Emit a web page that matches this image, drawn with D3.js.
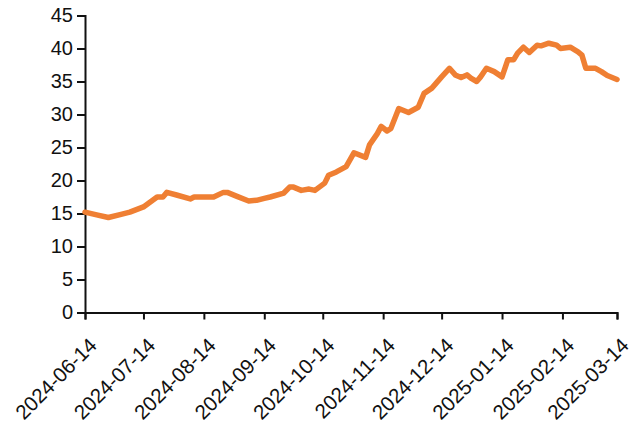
<!DOCTYPE html>
<html>
<head>
<meta charset="utf-8">
<script src="https://cdn.jsdelivr.net/npm/d3@7"></script>
<style>
  body { margin: 0; background: #fff; }
  text { font-family: "Liberation Sans", Arial, sans-serif; fill: #111; }
</style>
</head>
<body>
<div id="chart"></div>
<script>
const width = 643;
const height = 428;
const margin = {top: 15.5, right: 26, bottom: 115.5, left: 85};

// data
const dates = [
  "2024-06-14", "2024-06-20", "2024-06-26", "2024-07-03", "2024-07-07", "2024-07-14",
  "2024-07-21", "2024-07-24", "2024-07-26", "2024-07-31", "2024-08-07", "2024-08-09",
  "2024-08-19", "2024-08-24", "2024-08-26", "2024-08-31", "2024-09-06", "2024-09-10",
  "2024-09-14", "2024-09-17", "2024-09-24", "2024-09-27", "2024-09-29", "2024-10-03",
  "2024-10-07", "2024-10-10", "2024-10-15", "2024-10-17", "2024-10-21", "2024-10-26",
  "2024-10-30", "2024-11-05", "2024-11-07", "2024-11-11", "2024-11-13", "2024-11-16",
  "2024-11-18", "2024-11-22", "2024-11-27", "2024-12-02", "2024-12-05", "2024-12-09",
  "2024-12-14", "2024-12-18", "2024-12-21", "2024-12-24", "2024-12-27", "2024-12-29",
  "2025-01-01", "2025-01-03", "2025-01-06", "2025-01-10", "2025-01-14", "2025-01-17",
  "2025-01-20", "2025-01-22", "2025-01-25", "2025-01-28", "2025-02-01", "2025-02-03",
  "2025-02-07", "2025-02-11", "2025-02-13", "2025-02-18", "2025-02-22", "2025-02-24",
  "2025-02-26", "2025-03-03", "2025-03-06", "2025-03-09", "2025-03-14"
];
const values = [
  15.2, 14.8, 14.4, 14.9, 15.2, 16.0,
  17.5, 17.5, 18.2, 17.8, 17.2, 17.5,
  17.5, 18.2, 18.2, 17.6, 16.9, 17.0,
  17.3, 17.5, 18.1, 19.0, 19.0, 18.5,
  18.7, 18.5, 19.6, 20.8, 21.3, 22.1,
  24.2, 23.5, 25.4, 27.1, 28.2, 27.5,
  27.9, 30.9, 30.3, 31.1, 33.2, 34.0,
  35.7, 37.0, 36.0, 35.6, 36.0, 35.5,
  35.0, 35.7, 37.0, 36.5, 35.7, 38.3,
  38.3, 39.3, 40.2, 39.4, 40.5, 40.4,
  40.8, 40.5, 40.0, 40.2, 39.5, 39.0,
  37.0, 37.0, 36.5, 35.9, 35.3
];
const yTicks = [0, 5, 10, 15, 20, 25, 30, 35, 40, 45];
const xTickLabels = [
  "2024-06-14", "2024-07-14", "2024-08-14", "2024-09-14", "2024-10-14",
  "2024-11-14", "2024-12-14", "2025-01-14", "2025-02-14", "2025-03-14"
];

const parse = d3.utcParse("%Y-%m-%d");
const data = dates.map((d, i) => ({date: parse(d), value: values[i]}));

const svg = d3.select("#chart")
  .append("svg")
    .attr("width", width)
    .attr("height", height)
    .attr("viewBox", [0, 0, width, height]);

const x = d3.scaleUtc()
  .domain([parse(xTickLabels[0]), parse(xTickLabels[xTickLabels.length - 1])])
  .range([margin.left, width - margin.right]);

const y = d3.scaleLinear()
  .domain([0, 45])
  .range([height - margin.bottom, margin.top]);

// y axis
const yAxis = svg.append("g")
  .attr("transform", `translate(${margin.left},0)`)
  .call(d3.axisLeft(y).tickValues(yTicks).tickSize(8).tickPadding(4));
yAxis.selectAll("text").style("font-size", "20px");

// x axis
const xAxis = svg.append("g")
  .attr("transform", `translate(0,${height - margin.bottom})`)
  .call(d3.axisBottom(x).tickValues(xTickLabels.map(parse)).tickSize(7).tickFormat(""));

svg.selectAll(".domain, .tick line")
  .attr("stroke", "#111")
  .attr("stroke-width", 2);

svg.append("g").selectAll("text")
  .data(xTickLabels)
  .enter().append("text")
    .attr("transform", d => `translate(${x(parse(d)) + 8},${height - margin.bottom + 29}) rotate(-45)`)
    .attr("text-anchor", "end")
    .attr("dy", "0.35em")
    .style("font-size", "20.5px")
    .text(d => d);

// line
const line = d3.line()
  .x(d => x(d.date))
  .y(d => y(d.value));

svg.append("path")
  .datum(data)
  .attr("fill", "none")
  .attr("stroke", "#EF7F33")
  .attr("stroke-width", 5.5)
  .attr("stroke-linejoin", "round")
  .attr("stroke-linecap", "round")
  .attr("d", line);
</script>
</body>
</html>
